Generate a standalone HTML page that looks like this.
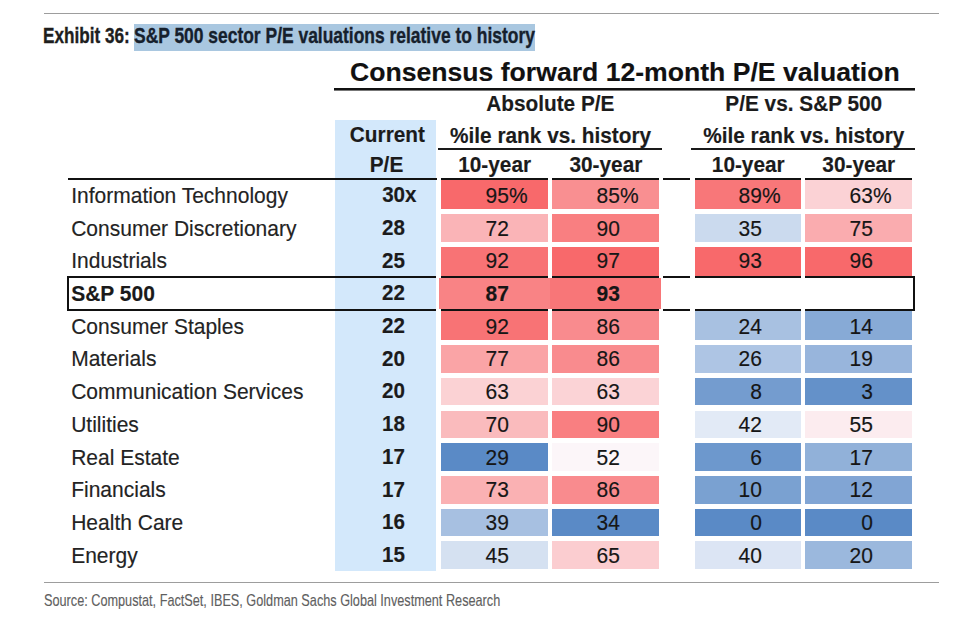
<!DOCTYPE html>
<html><head><meta charset="utf-8"><style>
html,body{margin:0;padding:0;background:#fff;}
body{width:959px;height:617px;position:relative;overflow:hidden;font-family:"Liberation Sans",Arial,sans-serif;}
.t{position:absolute;white-space:nowrap;}
.r{position:absolute;}
.h{visibility:hidden;}
.t{-webkit-text-stroke:0.15px currentColor;}
</style></head><body>
<div class="r" style="left:44.00px;top:12.70px;width:894.80px;height:1.40px;background:#9d9d9d;"></div>
<div class="r" style="left:134.00px;top:24.00px;width:401.00px;height:26.50px;background:#a9c7e0;"></div>
<div class="t" style="left:43.3px;top:26.00px;font-size:21.5px;line-height:21.5px;font-weight:bold;color:#1e1e1e;transform:scaleX(0.798);transform-origin:0 0;-webkit-text-stroke:0.35px currentColor;">Exhibit 36:</div>
<div class="t" style="left:134.0px;top:26.00px;font-size:21.5px;line-height:21.5px;font-weight:bold;color:#16202c;transform:scaleX(0.811);transform-origin:0 0;-webkit-text-stroke:0.35px currentColor;">S&amp;P 500 sector P/E valuations relative to history</div>
<div class="t" style="left:174.90px;width:900px;text-align:center;top:59.08px;font-size:26.6px;line-height:26.6px;font-weight:bold;color:#111;">Consensus forward 12-month P/E valuation</div>
<div class="r" style="left:334.00px;top:87.90px;width:581.00px;height:2.50px;background:#111;"></div>
<div class="r" style="left:334.00px;top:90.40px;width:581.00px;height:1.10px;background:#777;"></div>
<div class="t" style="left:100.30px;width:900px;text-align:center;top:94.29px;font-size:20.8px;line-height:20.8px;font-weight:bold;color:#1b1b1b;transform:scaleY(1.05);transform-origin:0 17.61px;">Absolute P/E</div>
<div class="t" style="left:353.75px;width:900px;text-align:center;top:94.29px;font-size:20.8px;line-height:20.8px;font-weight:bold;color:#1b1b1b;transform:scaleY(1.05);transform-origin:0 17.61px;">P/E vs. S&amp;P 500</div>
<div class="r" style="left:334.70px;top:120.20px;width:101.80px;height:451.30px;background:#d3e8fb;"></div>
<div class="t" style="left:-62.60px;width:900px;text-align:center;top:125.19px;font-size:20.8px;line-height:20.8px;font-weight:bold;color:#1b1b1b;transform:scaleY(1.05);transform-origin:0 17.61px;">Current</div>
<div class="t" style="left:-63.50px;width:900px;text-align:center;top:155.19px;font-size:20.8px;line-height:20.8px;font-weight:bold;color:#1b1b1b;transform:scaleY(1.05);transform-origin:0 17.61px;">P/E</div>
<div class="t" style="left:100.60px;width:900px;text-align:center;top:125.59px;font-size:20.8px;line-height:20.8px;font-weight:bold;color:#1b1b1b;transform:scaleY(1.05);transform-origin:0 17.61px;">%ile rank vs. history</div>
<div class="t" style="left:353.75px;width:900px;text-align:center;top:125.59px;font-size:20.8px;line-height:20.8px;font-weight:bold;color:#1b1b1b;transform:scaleY(1.05);transform-origin:0 17.61px;">%ile rank vs. history</div>
<div class="r" style="left:438.40px;top:148.10px;width:223.50px;height:2.20px;background:#1a1a1a;"></div>
<div class="r" style="left:690.80px;top:148.10px;width:224.10px;height:2.20px;background:#1a1a1a;"></div>
<div class="t" style="left:44.65px;width:900px;text-align:center;top:155.19px;font-size:20.8px;line-height:20.8px;font-weight:bold;color:#1b1b1b;transform:scaleY(1.05);transform-origin:0 17.61px;">10-year</div>
<div class="t" style="left:155.90px;width:900px;text-align:center;top:155.19px;font-size:20.8px;line-height:20.8px;font-weight:bold;color:#1b1b1b;transform:scaleY(1.05);transform-origin:0 17.61px;">30-year</div>
<div class="t" style="left:298.25px;width:900px;text-align:center;top:155.19px;font-size:20.8px;line-height:20.8px;font-weight:bold;color:#1b1b1b;transform:scaleY(1.05);transform-origin:0 17.61px;">10-year</div>
<div class="t" style="left:408.80px;width:900px;text-align:center;top:155.19px;font-size:20.8px;line-height:20.8px;font-weight:bold;color:#1b1b1b;transform:scaleY(1.05);transform-origin:0 17.61px;">30-year</div>
<div class="r" style="left:440.50px;top:180.10px;width:107.30px;height:29.10px;background:#f8696b;"></div>
<div class="r" style="left:552.00px;top:180.10px;width:106.80px;height:29.10px;background:#f98f91;"></div>
<div class="r" style="left:694.70px;top:180.10px;width:106.10px;height:29.10px;background:#f87779;"></div>
<div class="r" style="left:804.80px;top:180.10px;width:107.00px;height:29.10px;background:#fbd2d5;"></div>
<div class="r" style="left:440.50px;top:214.40px;width:107.30px;height:27.50px;background:#fab4b7;"></div>
<div class="r" style="left:552.00px;top:214.40px;width:106.80px;height:27.50px;background:#f97f81;"></div>
<div class="r" style="left:694.70px;top:214.40px;width:106.10px;height:27.50px;background:#cbdaee;"></div>
<div class="r" style="left:804.80px;top:214.40px;width:107.00px;height:27.50px;background:#faacaf;"></div>
<div class="r" style="left:440.50px;top:247.10px;width:107.30px;height:30.10px;background:#f87375;"></div>
<div class="r" style="left:552.00px;top:247.10px;width:106.80px;height:30.10px;background:#f8696b;"></div>
<div class="r" style="left:694.70px;top:247.10px;width:106.10px;height:30.10px;background:#f8696b;"></div>
<div class="r" style="left:804.80px;top:247.10px;width:107.00px;height:30.10px;background:#f8696b;"></div>
<div class="r" style="left:438.50px;top:278.20px;width:111.30px;height:30.90px;background:#f98385;"></div>
<div class="r" style="left:549.80px;top:278.20px;width:111.00px;height:30.90px;background:#f87678;"></div>
<div class="r" style="left:440.50px;top:310.50px;width:107.30px;height:29.50px;background:#f87375;"></div>
<div class="r" style="left:552.00px;top:310.50px;width:106.80px;height:29.50px;background:#f98b8e;"></div>
<div class="r" style="left:694.70px;top:310.50px;width:106.10px;height:29.50px;background:#a8c1e1;"></div>
<div class="r" style="left:804.80px;top:310.50px;width:107.00px;height:29.50px;background:#87aad6;"></div>
<div class="r" style="left:440.50px;top:345.20px;width:107.30px;height:27.50px;background:#faa4a6;"></div>
<div class="r" style="left:552.00px;top:345.20px;width:106.80px;height:27.50px;background:#f98b8e;"></div>
<div class="r" style="left:694.70px;top:345.20px;width:106.10px;height:27.50px;background:#aec5e4;"></div>
<div class="r" style="left:804.80px;top:345.20px;width:107.00px;height:27.50px;background:#98b5dc;"></div>
<div class="r" style="left:440.50px;top:377.90px;width:107.30px;height:27.50px;background:#fbd2d4;"></div>
<div class="r" style="left:552.00px;top:377.90px;width:106.80px;height:27.50px;background:#fbd3d6;"></div>
<div class="r" style="left:694.70px;top:377.90px;width:106.10px;height:27.50px;background:#749ccf;"></div>
<div class="r" style="left:804.80px;top:377.90px;width:107.00px;height:27.50px;background:#6491c9;"></div>
<div class="r" style="left:440.50px;top:410.60px;width:107.30px;height:27.50px;background:#fabbbd;"></div>
<div class="r" style="left:552.00px;top:410.60px;width:106.80px;height:27.50px;background:#f97f81;"></div>
<div class="r" style="left:694.70px;top:410.60px;width:106.10px;height:27.50px;background:#e2eaf6;"></div>
<div class="r" style="left:804.80px;top:410.60px;width:107.00px;height:27.50px;background:#fcecef;"></div>
<div class="r" style="left:440.50px;top:443.30px;width:107.30px;height:27.50px;background:#5a8ac6;"></div>
<div class="r" style="left:552.00px;top:443.30px;width:106.80px;height:27.50px;background:#fcf6f9;"></div>
<div class="r" style="left:694.70px;top:443.30px;width:106.10px;height:27.50px;background:#6d98cd;"></div>
<div class="r" style="left:804.80px;top:443.30px;width:107.00px;height:27.50px;background:#91b1d9;"></div>
<div class="r" style="left:440.50px;top:476.00px;width:107.30px;height:27.50px;background:#fab1b3;"></div>
<div class="r" style="left:552.00px;top:476.00px;width:106.80px;height:27.50px;background:#f98b8e;"></div>
<div class="r" style="left:694.70px;top:476.00px;width:106.10px;height:27.50px;background:#7aa1d1;"></div>
<div class="r" style="left:804.80px;top:476.00px;width:107.00px;height:27.50px;background:#81a5d4;"></div>
<div class="r" style="left:440.50px;top:508.70px;width:107.30px;height:27.50px;background:#a7c0e1;"></div>
<div class="r" style="left:552.00px;top:508.70px;width:106.80px;height:27.50px;background:#5a8ac6;"></div>
<div class="r" style="left:694.70px;top:508.70px;width:106.10px;height:27.50px;background:#5a8ac6;"></div>
<div class="r" style="left:804.80px;top:508.70px;width:107.00px;height:27.50px;background:#5a8ac6;"></div>
<div class="r" style="left:440.50px;top:541.40px;width:107.30px;height:27.50px;background:#d5e1f1;"></div>
<div class="r" style="left:552.00px;top:541.40px;width:106.80px;height:27.50px;background:#fbcdd0;"></div>
<div class="r" style="left:694.70px;top:541.40px;width:106.10px;height:27.50px;background:#dce5f4;"></div>
<div class="r" style="left:804.80px;top:541.40px;width:107.00px;height:27.50px;background:#9bb8dd;"></div>
<div class="r" style="left:68.00px;top:178.00px;width:368.50px;height:2.20px;background:#111;"></div>
<div class="r" style="left:440.50px;top:178.00px;width:107.30px;height:2.20px;background:#111;"></div>
<div class="r" style="left:552.00px;top:178.00px;width:106.80px;height:2.20px;background:#111;"></div>
<div class="r" style="left:694.70px;top:178.00px;width:106.10px;height:2.20px;background:#111;"></div>
<div class="r" style="left:804.80px;top:178.00px;width:107.00px;height:2.20px;background:#111;"></div>
<div class="r" style="left:663.00px;top:178.00px;width:26.50px;height:2.20px;background:#111;"></div>
<div class="r" style="left:66.60px;top:276.40px;width:369.90px;height:2.10px;background:#111;"></div>
<div class="r" style="left:440.50px;top:276.40px;width:107.30px;height:2.10px;background:#111;"></div>
<div class="r" style="left:552.00px;top:276.40px;width:106.80px;height:2.10px;background:#111;"></div>
<div class="r" style="left:694.70px;top:276.40px;width:106.10px;height:2.10px;background:#111;"></div>
<div class="r" style="left:804.80px;top:276.40px;width:110.00px;height:2.10px;background:#111;"></div>
<div class="r" style="left:663.00px;top:276.40px;width:26.50px;height:2.10px;background:#111;"></div>
<div class="r" style="left:66.60px;top:308.60px;width:369.90px;height:2.00px;background:#111;"></div>
<div class="r" style="left:440.50px;top:308.60px;width:107.30px;height:2.00px;background:#111;"></div>
<div class="r" style="left:552.00px;top:308.60px;width:106.80px;height:2.00px;background:#111;"></div>
<div class="r" style="left:694.70px;top:308.60px;width:106.10px;height:2.00px;background:#111;"></div>
<div class="r" style="left:804.80px;top:308.60px;width:110.00px;height:2.00px;background:#111;"></div>
<div class="r" style="left:663.00px;top:308.60px;width:26.50px;height:2.00px;background:#111;"></div>
<div class="r" style="left:66.60px;top:276.40px;width:2.20px;height:34.20px;background:#111;"></div>
<div class="r" style="left:912.60px;top:276.40px;width:2.20px;height:34.20px;background:#111;"></div>
<div class="t" style="left:71.20px;top:184.92px;font-size:21.0px;line-height:21.0px;color:#232323;transform:scaleY(1.03);transform-origin:0 17.78px;">Information Technology</div>
<div class="t" style="left:-483.50px;width:900px;text-align:right;top:185.26px;font-size:20.6px;line-height:20.6px;font-weight:bold;color:#1b1b1b;transform:scaleY(1.08);transform-origin:0 17.44px;">30x</div>
<div class="t" style="left:-372.40px;width:900px;text-align:right;top:184.92px;font-size:21.0px;line-height:21.0px;color:#161616;transform:scaleY(1.08);transform-origin:0 17.78px;">95%</div>
<div class="t" style="left:-261.40px;width:900px;text-align:right;top:184.92px;font-size:21.0px;line-height:21.0px;color:#161616;transform:scaleY(1.08);transform-origin:0 17.78px;">85%</div>
<div class="t" style="left:-119.40px;width:900px;text-align:right;top:184.92px;font-size:21.0px;line-height:21.0px;color:#161616;transform:scaleY(1.08);transform-origin:0 17.78px;">89%</div>
<div class="t" style="left:-8.40px;width:900px;text-align:right;top:184.92px;font-size:21.0px;line-height:21.0px;color:#161616;transform:scaleY(1.08);transform-origin:0 17.78px;">63%</div>
<div class="t" style="left:71.20px;top:217.62px;font-size:21.0px;line-height:21.0px;color:#232323;transform:scaleY(1.03);transform-origin:0 17.78px;">Consumer Discretionary</div>
<div class="t" style="left:-483.50px;width:900px;text-align:right;top:217.96px;font-size:20.6px;line-height:20.6px;font-weight:bold;color:#1b1b1b;transform:scaleY(1.08);transform-origin:0 17.44px;">28<span class="h">x</span></div>
<div class="t" style="left:-372.40px;width:900px;text-align:right;top:217.62px;font-size:21.0px;line-height:21.0px;color:#161616;transform:scaleY(1.08);transform-origin:0 17.78px;">72<span class="h">%</span></div>
<div class="t" style="left:-261.40px;width:900px;text-align:right;top:217.62px;font-size:21.0px;line-height:21.0px;color:#161616;transform:scaleY(1.08);transform-origin:0 17.78px;">90<span class="h">%</span></div>
<div class="t" style="left:-119.40px;width:900px;text-align:right;top:217.62px;font-size:21.0px;line-height:21.0px;color:#161616;transform:scaleY(1.08);transform-origin:0 17.78px;">35<span class="h">%</span></div>
<div class="t" style="left:-8.40px;width:900px;text-align:right;top:217.62px;font-size:21.0px;line-height:21.0px;color:#161616;transform:scaleY(1.08);transform-origin:0 17.78px;">75<span class="h">%</span></div>
<div class="t" style="left:71.20px;top:250.32px;font-size:21.0px;line-height:21.0px;color:#232323;transform:scaleY(1.03);transform-origin:0 17.78px;">Industrials</div>
<div class="t" style="left:-483.50px;width:900px;text-align:right;top:250.66px;font-size:20.6px;line-height:20.6px;font-weight:bold;color:#1b1b1b;transform:scaleY(1.08);transform-origin:0 17.44px;">25<span class="h">x</span></div>
<div class="t" style="left:-372.40px;width:900px;text-align:right;top:250.32px;font-size:21.0px;line-height:21.0px;color:#161616;transform:scaleY(1.08);transform-origin:0 17.78px;">92<span class="h">%</span></div>
<div class="t" style="left:-261.40px;width:900px;text-align:right;top:250.32px;font-size:21.0px;line-height:21.0px;color:#161616;transform:scaleY(1.08);transform-origin:0 17.78px;">97<span class="h">%</span></div>
<div class="t" style="left:-119.40px;width:900px;text-align:right;top:250.32px;font-size:21.0px;line-height:21.0px;color:#161616;transform:scaleY(1.08);transform-origin:0 17.78px;">93<span class="h">%</span></div>
<div class="t" style="left:-8.40px;width:900px;text-align:right;top:250.32px;font-size:21.0px;line-height:21.0px;color:#161616;transform:scaleY(1.08);transform-origin:0 17.78px;">96<span class="h">%</span></div>
<div class="t" style="left:71.20px;top:283.02px;font-size:21.0px;line-height:21.0px;font-weight:bold;color:#1a1a1a;transform:scaleY(1.03);transform-origin:0 17.78px;">S&amp;P 500</div>
<div class="t" style="left:-483.50px;width:900px;text-align:right;top:283.36px;font-size:20.6px;line-height:20.6px;font-weight:bold;color:#1b1b1b;transform:scaleY(1.08);transform-origin:0 17.44px;">22<span class="h">x</span></div>
<div class="t" style="left:-372.40px;width:900px;text-align:right;top:283.02px;font-size:21.0px;line-height:21.0px;font-weight:bold;color:#161616;transform:scaleY(1.08);transform-origin:0 17.78px;">87<span class="h">%</span></div>
<div class="t" style="left:-261.40px;width:900px;text-align:right;top:283.02px;font-size:21.0px;line-height:21.0px;font-weight:bold;color:#161616;transform:scaleY(1.08);transform-origin:0 17.78px;">93<span class="h">%</span></div>
<div class="t" style="left:71.20px;top:315.72px;font-size:21.0px;line-height:21.0px;color:#232323;transform:scaleY(1.03);transform-origin:0 17.78px;">Consumer Staples</div>
<div class="t" style="left:-483.50px;width:900px;text-align:right;top:316.06px;font-size:20.6px;line-height:20.6px;font-weight:bold;color:#1b1b1b;transform:scaleY(1.08);transform-origin:0 17.44px;">22<span class="h">x</span></div>
<div class="t" style="left:-372.40px;width:900px;text-align:right;top:315.72px;font-size:21.0px;line-height:21.0px;color:#161616;transform:scaleY(1.08);transform-origin:0 17.78px;">92<span class="h">%</span></div>
<div class="t" style="left:-261.40px;width:900px;text-align:right;top:315.72px;font-size:21.0px;line-height:21.0px;color:#161616;transform:scaleY(1.08);transform-origin:0 17.78px;">86<span class="h">%</span></div>
<div class="t" style="left:-119.40px;width:900px;text-align:right;top:315.72px;font-size:21.0px;line-height:21.0px;color:#161616;transform:scaleY(1.08);transform-origin:0 17.78px;">24<span class="h">%</span></div>
<div class="t" style="left:-8.40px;width:900px;text-align:right;top:315.72px;font-size:21.0px;line-height:21.0px;color:#161616;transform:scaleY(1.08);transform-origin:0 17.78px;">14<span class="h">%</span></div>
<div class="t" style="left:71.20px;top:348.42px;font-size:21.0px;line-height:21.0px;color:#232323;transform:scaleY(1.03);transform-origin:0 17.78px;">Materials</div>
<div class="t" style="left:-483.50px;width:900px;text-align:right;top:348.76px;font-size:20.6px;line-height:20.6px;font-weight:bold;color:#1b1b1b;transform:scaleY(1.08);transform-origin:0 17.44px;">20<span class="h">x</span></div>
<div class="t" style="left:-372.40px;width:900px;text-align:right;top:348.42px;font-size:21.0px;line-height:21.0px;color:#161616;transform:scaleY(1.08);transform-origin:0 17.78px;">77<span class="h">%</span></div>
<div class="t" style="left:-261.40px;width:900px;text-align:right;top:348.42px;font-size:21.0px;line-height:21.0px;color:#161616;transform:scaleY(1.08);transform-origin:0 17.78px;">86<span class="h">%</span></div>
<div class="t" style="left:-119.40px;width:900px;text-align:right;top:348.42px;font-size:21.0px;line-height:21.0px;color:#161616;transform:scaleY(1.08);transform-origin:0 17.78px;">26<span class="h">%</span></div>
<div class="t" style="left:-8.40px;width:900px;text-align:right;top:348.42px;font-size:21.0px;line-height:21.0px;color:#161616;transform:scaleY(1.08);transform-origin:0 17.78px;">19<span class="h">%</span></div>
<div class="t" style="left:71.20px;top:381.12px;font-size:21.0px;line-height:21.0px;color:#232323;transform:scaleY(1.03);transform-origin:0 17.78px;">Communication Services</div>
<div class="t" style="left:-483.50px;width:900px;text-align:right;top:381.46px;font-size:20.6px;line-height:20.6px;font-weight:bold;color:#1b1b1b;transform:scaleY(1.08);transform-origin:0 17.44px;">20<span class="h">x</span></div>
<div class="t" style="left:-372.40px;width:900px;text-align:right;top:381.12px;font-size:21.0px;line-height:21.0px;color:#161616;transform:scaleY(1.08);transform-origin:0 17.78px;">63<span class="h">%</span></div>
<div class="t" style="left:-261.40px;width:900px;text-align:right;top:381.12px;font-size:21.0px;line-height:21.0px;color:#161616;transform:scaleY(1.08);transform-origin:0 17.78px;">63<span class="h">%</span></div>
<div class="t" style="left:-119.40px;width:900px;text-align:right;top:381.12px;font-size:21.0px;line-height:21.0px;color:#161616;transform:scaleY(1.08);transform-origin:0 17.78px;">8<span class="h">%</span></div>
<div class="t" style="left:-8.40px;width:900px;text-align:right;top:381.12px;font-size:21.0px;line-height:21.0px;color:#161616;transform:scaleY(1.08);transform-origin:0 17.78px;">3<span class="h">%</span></div>
<div class="t" style="left:71.20px;top:413.82px;font-size:21.0px;line-height:21.0px;color:#232323;transform:scaleY(1.03);transform-origin:0 17.78px;">Utilities</div>
<div class="t" style="left:-483.50px;width:900px;text-align:right;top:414.16px;font-size:20.6px;line-height:20.6px;font-weight:bold;color:#1b1b1b;transform:scaleY(1.08);transform-origin:0 17.44px;">18<span class="h">x</span></div>
<div class="t" style="left:-372.40px;width:900px;text-align:right;top:413.82px;font-size:21.0px;line-height:21.0px;color:#161616;transform:scaleY(1.08);transform-origin:0 17.78px;">70<span class="h">%</span></div>
<div class="t" style="left:-261.40px;width:900px;text-align:right;top:413.82px;font-size:21.0px;line-height:21.0px;color:#161616;transform:scaleY(1.08);transform-origin:0 17.78px;">90<span class="h">%</span></div>
<div class="t" style="left:-119.40px;width:900px;text-align:right;top:413.82px;font-size:21.0px;line-height:21.0px;color:#161616;transform:scaleY(1.08);transform-origin:0 17.78px;">42<span class="h">%</span></div>
<div class="t" style="left:-8.40px;width:900px;text-align:right;top:413.82px;font-size:21.0px;line-height:21.0px;color:#161616;transform:scaleY(1.08);transform-origin:0 17.78px;">55<span class="h">%</span></div>
<div class="t" style="left:71.20px;top:446.52px;font-size:21.0px;line-height:21.0px;color:#232323;transform:scaleY(1.03);transform-origin:0 17.78px;">Real Estate</div>
<div class="t" style="left:-483.50px;width:900px;text-align:right;top:446.86px;font-size:20.6px;line-height:20.6px;font-weight:bold;color:#1b1b1b;transform:scaleY(1.08);transform-origin:0 17.44px;">17<span class="h">x</span></div>
<div class="t" style="left:-372.40px;width:900px;text-align:right;top:446.52px;font-size:21.0px;line-height:21.0px;color:#161616;transform:scaleY(1.08);transform-origin:0 17.78px;">29<span class="h">%</span></div>
<div class="t" style="left:-261.40px;width:900px;text-align:right;top:446.52px;font-size:21.0px;line-height:21.0px;color:#161616;transform:scaleY(1.08);transform-origin:0 17.78px;">52<span class="h">%</span></div>
<div class="t" style="left:-119.40px;width:900px;text-align:right;top:446.52px;font-size:21.0px;line-height:21.0px;color:#161616;transform:scaleY(1.08);transform-origin:0 17.78px;">6<span class="h">%</span></div>
<div class="t" style="left:-8.40px;width:900px;text-align:right;top:446.52px;font-size:21.0px;line-height:21.0px;color:#161616;transform:scaleY(1.08);transform-origin:0 17.78px;">17<span class="h">%</span></div>
<div class="t" style="left:71.20px;top:479.22px;font-size:21.0px;line-height:21.0px;color:#232323;transform:scaleY(1.03);transform-origin:0 17.78px;">Financials</div>
<div class="t" style="left:-483.50px;width:900px;text-align:right;top:479.56px;font-size:20.6px;line-height:20.6px;font-weight:bold;color:#1b1b1b;transform:scaleY(1.08);transform-origin:0 17.44px;">17<span class="h">x</span></div>
<div class="t" style="left:-372.40px;width:900px;text-align:right;top:479.22px;font-size:21.0px;line-height:21.0px;color:#161616;transform:scaleY(1.08);transform-origin:0 17.78px;">73<span class="h">%</span></div>
<div class="t" style="left:-261.40px;width:900px;text-align:right;top:479.22px;font-size:21.0px;line-height:21.0px;color:#161616;transform:scaleY(1.08);transform-origin:0 17.78px;">86<span class="h">%</span></div>
<div class="t" style="left:-119.40px;width:900px;text-align:right;top:479.22px;font-size:21.0px;line-height:21.0px;color:#161616;transform:scaleY(1.08);transform-origin:0 17.78px;">10<span class="h">%</span></div>
<div class="t" style="left:-8.40px;width:900px;text-align:right;top:479.22px;font-size:21.0px;line-height:21.0px;color:#161616;transform:scaleY(1.08);transform-origin:0 17.78px;">12<span class="h">%</span></div>
<div class="t" style="left:71.20px;top:511.92px;font-size:21.0px;line-height:21.0px;color:#232323;transform:scaleY(1.03);transform-origin:0 17.78px;">Health Care</div>
<div class="t" style="left:-483.50px;width:900px;text-align:right;top:512.26px;font-size:20.6px;line-height:20.6px;font-weight:bold;color:#1b1b1b;transform:scaleY(1.08);transform-origin:0 17.44px;">16<span class="h">x</span></div>
<div class="t" style="left:-372.40px;width:900px;text-align:right;top:511.92px;font-size:21.0px;line-height:21.0px;color:#161616;transform:scaleY(1.08);transform-origin:0 17.78px;">39<span class="h">%</span></div>
<div class="t" style="left:-261.40px;width:900px;text-align:right;top:511.92px;font-size:21.0px;line-height:21.0px;color:#161616;transform:scaleY(1.08);transform-origin:0 17.78px;">34<span class="h">%</span></div>
<div class="t" style="left:-119.40px;width:900px;text-align:right;top:511.92px;font-size:21.0px;line-height:21.0px;color:#161616;transform:scaleY(1.08);transform-origin:0 17.78px;">0<span class="h">%</span></div>
<div class="t" style="left:-8.40px;width:900px;text-align:right;top:511.92px;font-size:21.0px;line-height:21.0px;color:#161616;transform:scaleY(1.08);transform-origin:0 17.78px;">0<span class="h">%</span></div>
<div class="t" style="left:71.20px;top:544.62px;font-size:21.0px;line-height:21.0px;color:#232323;transform:scaleY(1.03);transform-origin:0 17.78px;">Energy</div>
<div class="t" style="left:-483.50px;width:900px;text-align:right;top:544.96px;font-size:20.6px;line-height:20.6px;font-weight:bold;color:#1b1b1b;transform:scaleY(1.08);transform-origin:0 17.44px;">15<span class="h">x</span></div>
<div class="t" style="left:-372.40px;width:900px;text-align:right;top:544.62px;font-size:21.0px;line-height:21.0px;color:#161616;transform:scaleY(1.08);transform-origin:0 17.78px;">45<span class="h">%</span></div>
<div class="t" style="left:-261.40px;width:900px;text-align:right;top:544.62px;font-size:21.0px;line-height:21.0px;color:#161616;transform:scaleY(1.08);transform-origin:0 17.78px;">65<span class="h">%</span></div>
<div class="t" style="left:-119.40px;width:900px;text-align:right;top:544.62px;font-size:21.0px;line-height:21.0px;color:#161616;transform:scaleY(1.08);transform-origin:0 17.78px;">40<span class="h">%</span></div>
<div class="t" style="left:-8.40px;width:900px;text-align:right;top:544.62px;font-size:21.0px;line-height:21.0px;color:#161616;transform:scaleY(1.08);transform-origin:0 17.78px;">20<span class="h">%</span></div>
<div class="r" style="left:44.00px;top:581.70px;width:894.80px;height:1.40px;background:#9d9d9d;"></div>
<div class="t" style="left:44px;top:592.02px;font-size:16.4px;line-height:16.4px;color:#5f5f5f;transform:scaleX(0.774);transform-origin:0 0;">Source: Compustat, FactSet, IBES, Goldman Sachs Global Investment Research</div>
</body></html>
